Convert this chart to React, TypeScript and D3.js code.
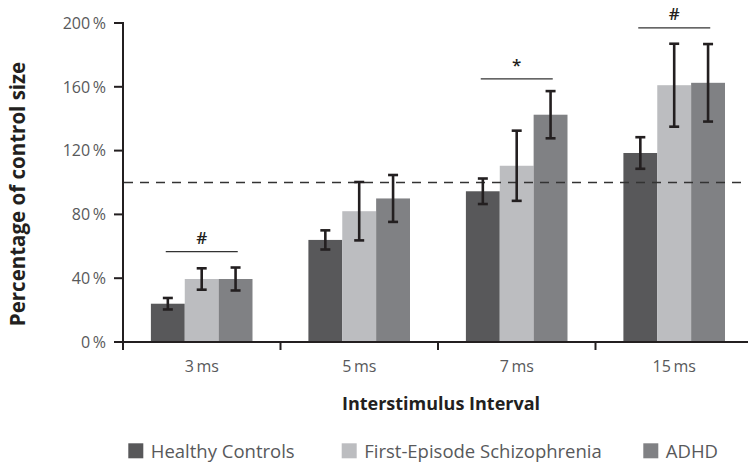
import React from "react";
import * as d3 from "d3";

const categories = ["3 ms", "5 ms", "7 ms", "15 ms"];
const seriesNames = ["Healthy Controls", "First-Episode Schizophrenia", "ADHD"];
const healthy = [24, 64, 94.5, 118.5];
const healthyErr = [3.6, 6, 8, 9.9];
const schizo = [39.5, 82, 110.5, 161];
const schizoErr = [6.7, 18.3, 22, 26];
const adhd = [39.5, 90, 142.5, 162.5];
const adhdErr = [7.2, 14.7, 14.8, 24.3];
const yTicks = [0, 40, 80, 120, 160, 200];
const refLine = 100;
const sigCats = ["3 ms", "7 ms", "15 ms"];
const sigLabels = ["#", "*", "#"];
const sigLevels = [56.6, 165, 197];
const colors = ["#58585a", "#bcbdc0", "#808184"];

const W = 748;
const H = 465;
const left = 123;
const step = 157.5;
const y0 = 342;
const yTop = 23;

export default function App() {
  const x = d3.scaleBand<string>().domain(categories).range([left, left + step * 4]).padding(0);
  const xi = d3.scaleBand<number>().domain([0, 1, 2]).range([27.9, 129.5]).padding(0);
  const y = d3.scaleLinear().domain([0, 200]).range([y0, yTop]);
  const series = [
    { vals: healthy, errs: healthyErr },
    { vals: schizo, errs: schizoErr },
    { vals: adhd, errs: adhdErr },
  ];
  const ink = "#231f20";
  const grey = "#58595b";
  const font = "'Open Sans', sans-serif";
  const cap = 5;

  return (
    <svg width={W} height={H} style={{ position: "absolute", left: 0, top: 0, background: "#fff" }}>
      {series.map((s, si) =>
        categories.map((c, ci) => (
          <rect
            key={`b${si}-${ci}`}
            x={(x(c) as number) + (xi(si) as number)}
            y={y(s.vals[ci])}
            width={xi.bandwidth()}
            height={y0 - y(s.vals[ci])}
            fill={colors[si]}
          />
        ))
      )}
      <line x1={left + 1} x2={W} y1={y(refLine)} y2={y(refLine)} stroke="#333" strokeWidth={1.5} strokeDasharray="9,7" />
      {series.map((s, si) =>
        categories.map((c, ci) => {
          const cx = (x(c) as number) + (xi(si) as number) + xi.bandwidth() / 2;
          const hi = y(s.vals[ci] + s.errs[ci]);
          const lo = y(s.vals[ci] - s.errs[ci]);
          return (
            <g key={`e${si}-${ci}`} stroke={ink} strokeWidth={2.6}>
              <line x1={cx} x2={cx} y1={hi} y2={lo} />
              <line x1={cx - cap} x2={cx + cap} y1={hi} y2={hi} />
              <line x1={cx - cap} x2={cx + cap} y1={lo} y2={lo} />
            </g>
          );
        })
      )}
      {sigCats.map((c, i) => {
        const cx = (x(c) as number) + step / 2;
        const ly = y(sigLevels[i]);
        return (
          <g key={`s${i}`}>
            <line x1={cx - 36} x2={cx + 36} y1={ly} y2={ly} stroke="#333" strokeWidth={1.3} />
            <text x={cx} y={ly - 7.7} textAnchor="middle" fontFamily={font} fontSize={17} fontWeight={600} fill={ink}>
              {sigLabels[i]}
            </text>
          </g>
        );
      })}
      <line x1={left} x2={W} y1={y0} y2={y0} stroke={ink} strokeWidth={2} />
      <line x1={left} x2={left} y1={yTop - 1} y2={y0 + 8} stroke={ink} strokeWidth={2} />
      {yTicks.map((t) => (
        <g key={`yt${t}`}>
          <line x1={left - 9} x2={left} y1={y(t)} y2={y(t)} stroke={ink} strokeWidth={2} />
          <text x={left - 17} y={y(t)} dy="0.36em" textAnchor="end" fontFamily={font} fontSize={16} fill={grey}>
            {`${t}\u2009%`}
          </text>
        </g>
      ))}
      {categories.map((c) => (
        <g key={`xt${c}`}>
          <line x1={x(c) as number} x2={x(c) as number} y1={y0} y2={y0 + 8} stroke={ink} strokeWidth={2} />
          <text x={(x(c) as number) + step / 2} y={371.5} textAnchor="middle" fontFamily={font} fontSize={16} fill={grey}>
            {c.replace(" ", "\u2009")}
          </text>
        </g>
      ))}
      <text x={441} y={410} textAnchor="middle" fontFamily={font} fontSize={18} fontWeight={700} fill={ink}>
        Interstimulus Interval
      </text>
      <text
        transform={`translate(25,194) rotate(-90)`}
        textAnchor="middle"
        fontFamily={font}
        fontSize={20.5}
        fontWeight={700}
        fill={ink}
      >
        Percentage of control size
      </text>
      {seriesNames.map((n, i) => {
        const lx = [128.3, 341.7, 643.3][i];
        return (
          <g key={`l${i}`}>
            <rect x={lx} y={443.3} width={15} height={15} fill={colors[i]} />
            <text x={lx + 22.5} y={458} fontFamily={font} fontSize={18.5} fill={grey}>
              {n}
            </text>
          </g>
        );
      })}
    </svg>
  );
}
